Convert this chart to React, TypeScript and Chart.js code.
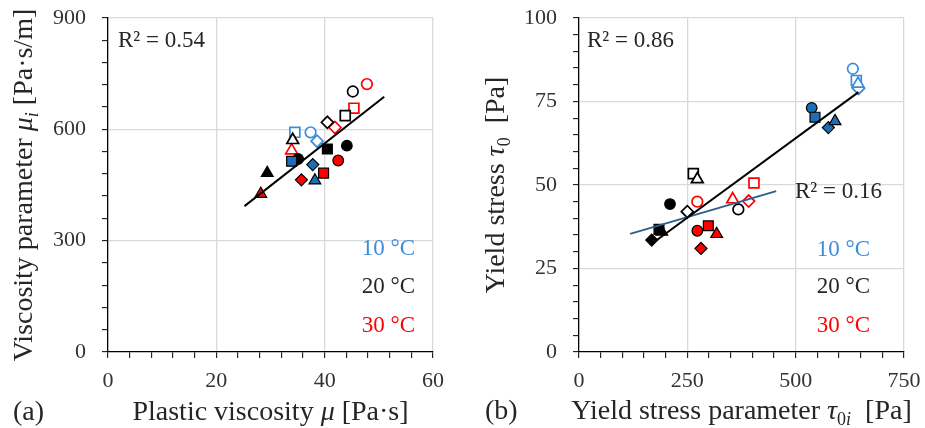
import React, { useEffect, useRef } from 'react';
import { Chart, registerables } from 'chart.js';

Chart.register(...registerables);

const SERIF = '"Liberation Serif", "Times New Roman", serif';

// ---------- marker shapes used in the data ----------
const SHAPES4 = ['circle', 'rect', 'rectRot', 'triangle'];

// ---------- Panel (a): plastic viscosity μ vs viscosity parameter μi ----------
const aXMajor = [0, 20, 40, 60];
const aYMajor = [0, 300, 600, 900];

const a10OpenX = [37.4, 34.5, 38.6];
const a10OpenY = [592, 592, 568];
const a10OpenShape = ['circle', 'rect', 'rectRot'];
const a10FillX = [33.9, 37.8, 38.2];
const a10FillY = [514, 505, 462];
const a10FillShape = ['rect', 'rectRot', 'triangle'];

const a20OpenX = [45.2, 43.8, 40.5, 34.1];
const a20OpenY = [702, 637, 619, 571];
const a20FillX = [44.1, 35.1, 40.5, 29.4];
const a20FillY = [556, 520, 547, 482];
const a20FillShape = ['circle', 'circle', 'rect', 'triangle'];

const a30OpenX = [47.8, 45.4, 41.9, 33.9];
const a30OpenY = [722, 657, 605, 543];
const a30FillX = [42.5, 39.8, 35.7, 28.2];
const a30FillY = [516, 482, 464, 426];

const aFitX = [25.2, 51.0];
const aFitY = [393, 688];

// ---------- Panel (b): yield stress parameter τ0i vs yield stress τ0 ----------
const bXMajor = [0, 250, 500, 750];
const bYMajor = [0, 25, 50, 75, 100];

const b10OpenX = [632, 640, 645, 644];
const b10OpenY = [84.8, 81.3, 78.9, 80.3];
const b10FillX = [537, 544.6, 575.4, 590.8];
const b10FillY = [73.1, 70.3, 67.2, 69.1];

const b20OpenX = [367.7, 263.8, 250, 273];
const b20OpenY = [42.7, 53.4, 42.0, 51.7];
const b20FillX = [210, 184.6, 167.7, 191];
const b20FillY = [44.3, 36.7, 33.5, 36.0];

const b30OpenX = [273, 403.8, 391.5, 354.6];
const b30OpenY = [45.0, 50.6, 45.2, 45.7];
const b30FillX = [273, 298.4, 281.5, 317.7];
const b30FillY = [36.3, 37.8, 31.0, 35.3];

const bFitAllX = [168, 645];
const bFitAllY = [32.4, 77.8];
const bFitLowX = [118, 455];
const bFitLowY = [35.4, 48.2];

// ---------- styling ----------
const BLUE_OPEN = '#3b8ddc';
const BLUE_FILL = '#1f6db5';
const RED = '#ff0000';
const BLACK = '#000000';
const TEXT = '#262626';
const GRID = '#d9d9d9';
const RADIUS: Record<string, number> = { circle: 5.3, rect: 7, rectRot: 6, triangle: 6.8 };

type Seg = { t: string; i?: boolean; s?: boolean };

function segFont(seg: Seg, size: number) {
  const sz = seg.s ? Math.round(size * 0.66) : size;
  return `${seg.i ? 'italic ' : ''}${sz}px ${SERIF}`;
}

function drawRich(ctx: CanvasRenderingContext2D, segs: Seg[], x: number, y: number, size: number, align: string, color: string) {
  ctx.save();
  ctx.textBaseline = 'alphabetic';
  ctx.textAlign = 'left';
  ctx.fillStyle = color;
  const widths = segs.map((s) => {
    ctx.font = segFont(s, size);
    return ctx.measureText(s.t).width;
  });
  const total = widths.reduce((p, c) => p + c, 0);
  let cx = align === 'center' ? x - total / 2 : align === 'right' ? x - total : x;
  segs.forEach((s, k) => {
    ctx.font = segFont(s, size);
    ctx.fillText(s.t, cx, y + (s.s ? size * 0.2 : 0));
    cx += widths[k];
  });
  ctx.restore();
}

const richTextPlugin = {
  id: 'richText',
  afterDraw(chart: any, _args: any, opts: any) {
    const ctx = chart.ctx as CanvasRenderingContext2D;
    const a = chart.chartArea;
    if (!opts || !opts.xTitle) return;
    drawRich(ctx, opts.xTitle, (a.left + a.right) / 2, opts.xTitleBaseline, 28, 'center', TEXT);
    drawRich(ctx, [{ t: opts.tag }], opts.tagX, opts.xTitleBaseline, 28, 'left', TEXT);
    ctx.save();
    ctx.translate(opts.yTitleBaseline, (a.top + a.bottom) / 2);
    ctx.rotate(-Math.PI / 2);
    drawRich(ctx, opts.yTitle, 0, 0, 28, 'center', TEXT);
    ctx.restore();
    (opts.notes || []).forEach((n: any) => {
      const x = n.anchor === 'right' ? a.right - n.dx : a.left + n.dx;
      drawRich(ctx, [{ t: n.text }], x, n.y, 23, n.anchor === 'right' ? 'right' : 'left', n.color);
    });
  },
};

function pts(xs: number[], ys: number[]) {
  return xs.map((x, i) => ({ x, y: ys[i] }));
}

function markers(label: string, xs: number[], ys: number[], shapes: string[], color: string, filled: boolean) {
  return {
    label,
    data: pts(xs, ys),
    showLine: false,
    pointStyle: shapes,
    pointRadius: shapes.map((s) => RADIUS[s]),
    pointHoverRadius: shapes.map((s) => RADIUS[s]),
    pointBackgroundColor: filled ? color : '#ffffff',
    pointBorderColor: filled ? '#000000' : color,
    pointBorderWidth: filled ? 1.2 : 1.7,
    order: 2,
  };
}

function fitLine(label: string, xs: number[], ys: number[], color: string, width: number) {
  return {
    label,
    data: pts(xs, ys),
    showLine: true,
    pointRadius: 0,
    pointHoverRadius: 0,
    borderColor: color,
    borderWidth: width,
    fill: false,
    order: 1,
  };
}

function axis(min: number, max: number, step: number, majors: number[], isY: boolean, size: number) {
  return {
    type: 'linear',
    min,
    max,
    afterFit: (scale: any) => {
      if (isY) {
        scale.width = size;
        scale.paddingTop = 0;
        scale.paddingBottom = 0;
      } else {
        scale.height = size;
        scale.paddingLeft = 0;
        scale.paddingRight = 0;
      }
    },
    ticks: {
      stepSize: step,
      autoSkip: false,
      maxRotation: 0,
      minRotation: 0,
      padding: isY ? 16 : 10,
      color: '#333333',
      font: { family: SERIF, size: 22 },
      callback: (v: number) => (majors.includes(v) ? String(v) : ''),
    },
    grid: {
      drawTicks: true,
      tickLength: 6,
      tickColor: '#000000',
      tickWidth: 1,
      lineWidth: 1.3,
      color: (c: any) => (c.tick && c.tick.value !== 0 && majors.includes(c.tick.value) ? GRID : 'rgba(0,0,0,0)'),
    },
    border: { display: true, color: '#000000', width: 1.3 },
  };
}

function configA(): any {
  return {
    type: 'scatter',
    data: {
      datasets: [
        fitLine('fit', aFitX, aFitY, '#000000', 2),
        markers('10 °C filled', a10FillX, a10FillY, a10FillShape, BLUE_FILL, true),
        markers('30 °C filled', a30FillX, a30FillY, SHAPES4, RED, true),
        markers('20 °C filled', a20FillX, a20FillY, a20FillShape, BLACK, true),
        markers('20 °C open', a20OpenX, a20OpenY, SHAPES4, BLACK, false),
        markers('10 °C open', a10OpenX, a10OpenY, a10OpenShape, BLUE_OPEN, false),
        markers('30 °C open', a30OpenX, a30OpenY, SHAPES4, RED, false),
      ],
    },
    options: {
      responsive: false,
      animation: false,
      devicePixelRatio: 1,
      layout: { padding: { left: 0, right: 29, top: 18, bottom: 0 } },
      scales: {
        x: axis(0, 60, 4, aXMajor, false, 76),
        y: axis(0, 900, 60, aYMajor, true, 108),
      },
      plugins: {
        legend: { display: false },
        tooltip: { enabled: false },
        richText: {
          xTitle: [{ t: 'Plastic viscosity ' }, { t: 'μ', i: true }, { t: ' [Pa·s]' }],
          yTitle: [{ t: 'Viscosity parameter ' }, { t: 'μ', i: true }, { t: 'i', i: true, s: true }, { t: ' [Pa·s/m]' }],
          tag: '(a)',
          tagX: 13,
          xTitleBaseline: 420,
          yTitleBaseline: 32,
          notes: [
            { text: 'R² = 0.54', anchor: 'left', dx: 10, y: 47, color: TEXT },
            { text: '10 °C', anchor: 'right', dx: 18, y: 255, color: BLUE_OPEN },
            { text: '20 °C', anchor: 'right', dx: 18, y: 293, color: TEXT },
            { text: '30 °C', anchor: 'right', dx: 18, y: 332, color: RED },
          ],
        },
      },
    },
    plugins: [richTextPlugin],
  };
}

function configB(): any {
  return {
    type: 'scatter',
    data: {
      datasets: [
        fitLine('fit all', bFitAllX, bFitAllY, '#000000', 2),
        fitLine('fit 20/30', bFitLowX, bFitLowY, '#2e5e8c', 1.8),
        markers('10 °C filled', b10FillX, b10FillY, SHAPES4, BLUE_FILL, true),
        markers('30 °C filled', b30FillX, b30FillY, SHAPES4, RED, true),
        markers('20 °C filled', b20FillX, b20FillY, SHAPES4, BLACK, true),
        markers('20 °C open', b20OpenX, b20OpenY, SHAPES4, BLACK, false),
        markers('10 °C open', b10OpenX, b10OpenY, SHAPES4, BLUE_OPEN, false),
        markers('30 °C open', b30OpenX, b30OpenY, SHAPES4, RED, false),
      ],
    },
    options: {
      responsive: false,
      animation: false,
      devicePixelRatio: 1,
      layout: { padding: { left: 0, right: 21, top: 18, bottom: 0 } },
      scales: {
        x: axis(0, 750, 50, bXMajor, false, 76),
        y: axis(0, 100, 5, bYMajor, true, 117),
      },
      plugins: {
        legend: { display: false },
        tooltip: { enabled: false },
        richText: {
          xTitle: [
            { t: 'Yield stress parameter ' },
            { t: 'τ', i: true },
            { t: '0', s: true },
            { t: 'i', i: true, s: true },
            { t: '  [Pa]' },
          ],
          yTitle: [{ t: 'Yield stress ' }, { t: 'τ', i: true }, { t: '0', s: true }, { t: '  [Pa]' }],
          tag: '(b)',
          tagX: 23,
          xTitleBaseline: 419,
          yTitleBaseline: 42,
          notes: [
            { text: 'R² = 0.86', anchor: 'left', dx: 8, y: 47, color: TEXT },
            { text: 'R² = 0.16', anchor: 'left', dx: 216, y: 198, color: TEXT },
            { text: '10 °C', anchor: 'right', dx: 34, y: 256, color: BLUE_OPEN },
            { text: '20 °C', anchor: 'right', dx: 34, y: 293, color: TEXT },
            { text: '30 °C', anchor: 'right', dx: 34, y: 332, color: RED },
          ],
        },
      },
    },
    plugins: [richTextPlugin],
  };
}

function Panel({ make, width }: { make: () => any; width: number }) {
  const ref = useRef<HTMLCanvasElement>(null);
  useEffect(() => {
    const chart = new Chart(ref.current as HTMLCanvasElement, make());
    return () => chart.destroy();
  }, [make]);
  return <canvas ref={ref} width={width} height={428} style={{ display: 'block', width, height: 428 }} />;
}

export default function App() {
  return (
    <div style={{ position: 'absolute', left: 0, top: 0, width: 925, height: 428, display: 'flex', background: '#ffffff' }}>
      <Panel make={configA} width={462} />
      <Panel make={configB} width={463} />
    </div>
  );
}
